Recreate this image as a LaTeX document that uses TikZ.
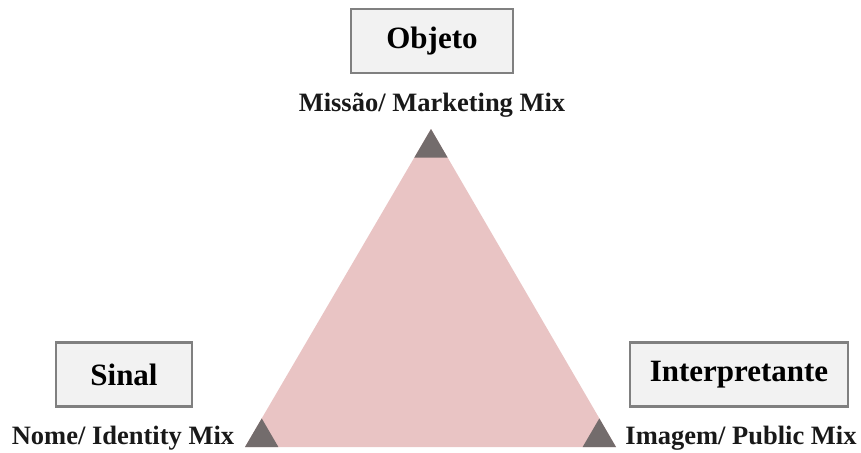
\documentclass[tikz,border=0pt]{standalone}
\usepackage{fontspec}
\setmainfont{Liberation Serif}
\usetikzlibrary{calc,positioning}
\definecolor{trifill}{HTML}{E9C4C4}
\definecolor{cornerfill}{HTML}{736C6C}
\definecolor{boxfill}{HTML}{F2F2F2}
\definecolor{boxline}{HTML}{808080}

\begin{document}
\begin{tikzpicture}[x=1pt,y=-1pt,
  box/.style={draw=boxline, line width=2.5pt, fill=boxfill, minimum height=64pt, font=\fontsize{31}{36}\selectfont\bfseries},
  tag/.style={font=\fontsize{26.5}{30}\selectfont\bfseries, text=black!90}]
 \useasboundingbox (0,0) rectangle (861,452);
 % triangle corners
 \coordinate (top) at (431,129);
 \coordinate (left) at (245,447);
 \coordinate (right) at (616,447);
 \fill[trifill] (top) -- (left) -- (right) -- cycle;
 \fill[cornerfill] (top) -- ($(top)!0.09!(left)$) -- ($(top)!0.09!(right)$) -- cycle;
 \fill[cornerfill] (left) -- ($(left)!0.09!(top)$) -- ($(left)!0.09!(right)$) -- cycle;
 \fill[cornerfill] (right) -- ($(right)!0.09!(top)$) -- ($(right)!0.09!(left)$) -- cycle;

 \node (objeto) [box, minimum width=162pt] at (432,41) {Objeto};
 \node (sinal) [box, minimum width=136pt] at (124,374.5) {Sinal};
 \node (interp) [box, minimum width=218pt] at (739,374.5) {Interpretante};

 \node (missao) [tag] at (432,105) {Missão/ Marketing Mix};
 \node (nome) [tag] at (123,438) {Nome/ Identity Mix};
 \node (imagem) [tag] at (741,438) {Imagem/ Public Mix};
\end{tikzpicture}
\end{document}
